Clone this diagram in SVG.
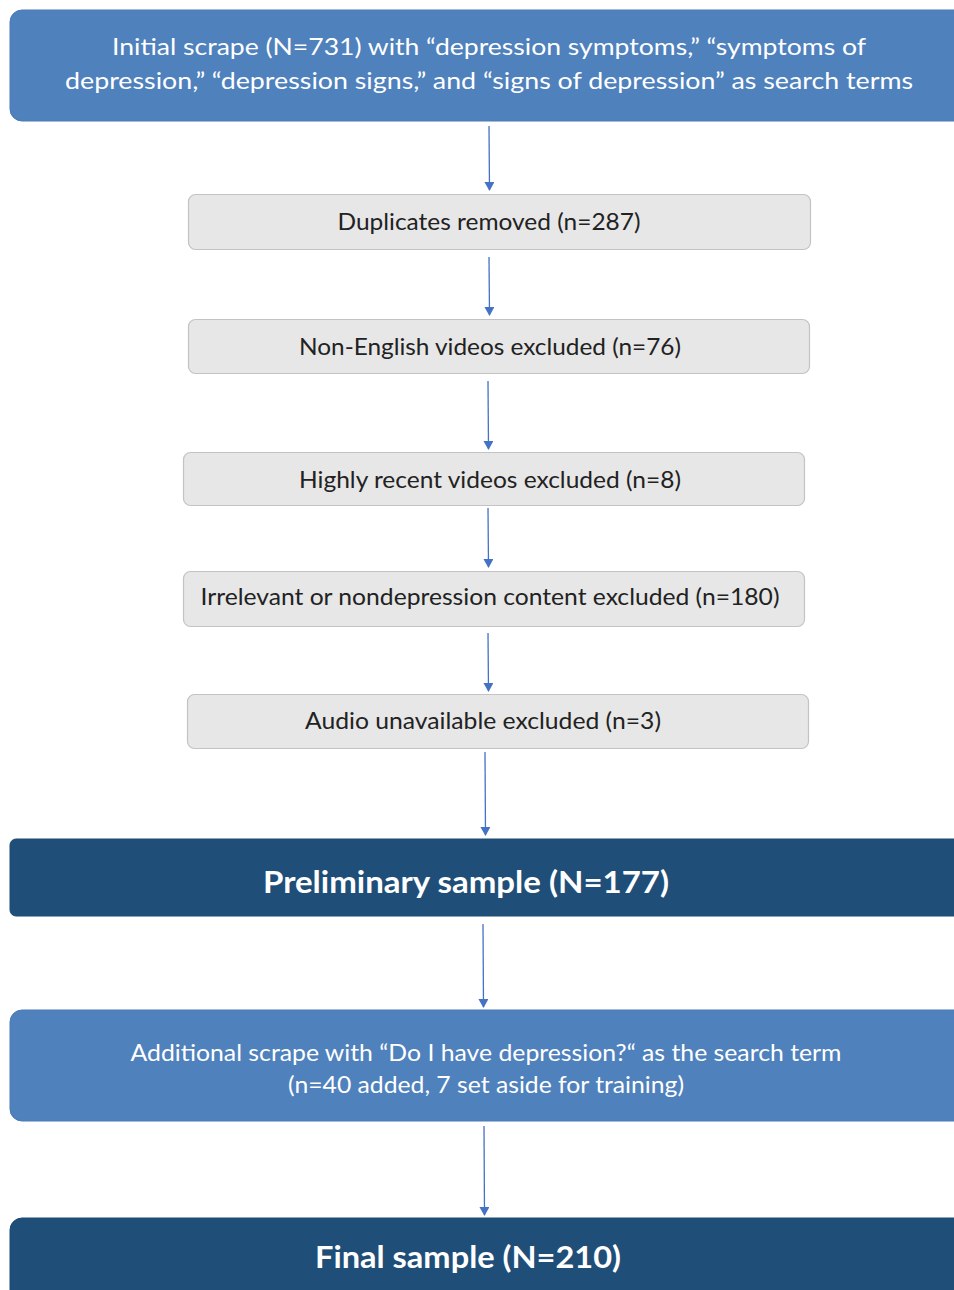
<svg xmlns="http://www.w3.org/2000/svg" width="954" height="1290" viewBox="0 0 954 1290">
<defs>
<marker id="ah" markerWidth="10" markerHeight="10" refX="8" refY="5" orient="auto" markerUnits="userSpaceOnUse" viewBox="0 0 10 10">
<path d="M0,0 L9,5 L0,10 Z" fill="#4472c4"/>
</marker>
</defs>
<style>
.blue{fill:#4f81bd;stroke:#4a7ab5;stroke-width:1}
.dark{fill:#1f4e79;stroke:#1d4a72;stroke-width:1}
.gray{fill:#e7e7e7;stroke:#c3c3c3;stroke-width:1.2}
.t{font-family:Lato,"Open Sans","Liberation Sans",sans-serif;text-anchor:middle}
.w{fill:#ffffff;font-size:23px}
.k{fill:#222222;font-size:23px}
.b{fill:#ffffff;font-size:31px;font-weight:bold}
.c{stroke:#4472c4;stroke-width:1.3;fill:none;marker-end:url(#ah)}
</style>
<g id="n1">
<rect class="blue" x="10" y="10" width="960" height="111" rx="12"/>
<text class="t w" x="489" y="55" textLength="754" lengthAdjust="spacingAndGlyphs">Initial scrape (N=731) with “depression symptoms,” “symptoms of</text>
<text class="t w" x="489" y="89" textLength="848" lengthAdjust="spacingAndGlyphs">depression,” “depression signs,” and “signs of depression” as search terms</text>
</g>
<g id="n2">
<rect class="gray" x="188.5" y="194.5" width="622" height="55" rx="7"/>
<text class="t k" x="489" y="230" textLength="303" lengthAdjust="spacingAndGlyphs">Duplicates removed (n=287)</text>
</g>
<g id="n3">
<rect class="gray" x="188.5" y="319.5" width="621" height="54" rx="7"/>
<text class="t k" x="490" y="355" textLength="382" lengthAdjust="spacingAndGlyphs">Non-English videos excluded (n=76)</text>
</g>
<g id="n4">
<rect class="gray" x="183.5" y="452.5" width="621" height="53" rx="7"/>
<text class="t k" x="490" y="488" textLength="382" lengthAdjust="spacingAndGlyphs">Highly recent videos excluded (n=8)</text>
</g>
<g id="n5">
<rect class="gray" x="183.5" y="571.5" width="621" height="55" rx="7"/>
<text class="t k" x="490" y="605" textLength="579" lengthAdjust="spacingAndGlyphs">Irrelevant or nondepression content excluded (n=180)</text>
</g>
<g id="n6">
<rect class="gray" x="187.5" y="694.5" width="621" height="54" rx="7"/>
<text class="t k" x="483" y="729" textLength="356" lengthAdjust="spacingAndGlyphs">Audio unavailable excluded (n=3)</text>
</g>
<g id="n7">
<rect class="dark" x="10" y="839" width="960" height="77" rx="6"/>
<text class="t b" x="466" y="893" textLength="406" lengthAdjust="spacingAndGlyphs">Preliminary sample (N=177)</text>
</g>
<g id="n8">
<rect class="blue" x="10" y="1010" width="960" height="111" rx="12"/>
<text class="t w" x="486" y="1061" textLength="711" lengthAdjust="spacingAndGlyphs">Additional scrape with “Do I have depression?“ as the search term</text>
<text class="t w" x="486" y="1093" textLength="396" lengthAdjust="spacingAndGlyphs">(n=40 added, 7 set aside for training)</text>
</g>
<g id="n9">
<rect class="dark" x="10" y="1218" width="960" height="100" rx="12"/>
<text class="t b" x="468" y="1268" textLength="306" lengthAdjust="spacingAndGlyphs">Final sample (N=210)</text>
</g>
<g id="connectors">
<line class="c" x1="489" y1="126" x2="489.5" y2="190"/>
<line class="c" x1="489" y1="257" x2="489.5" y2="315"/>
<line class="c" x1="488" y1="381" x2="488.5" y2="449"/>
<line class="c" x1="488" y1="508" x2="488.5" y2="567"/>
<line class="c" x1="488" y1="633" x2="488.5" y2="691"/>
<line class="c" x1="485" y1="752" x2="485.5" y2="835"/>
<line class="c" x1="483" y1="924" x2="483.5" y2="1007"/>
<line class="c" x1="484" y1="1126" x2="484.5" y2="1215"/>
</g>
</svg>
